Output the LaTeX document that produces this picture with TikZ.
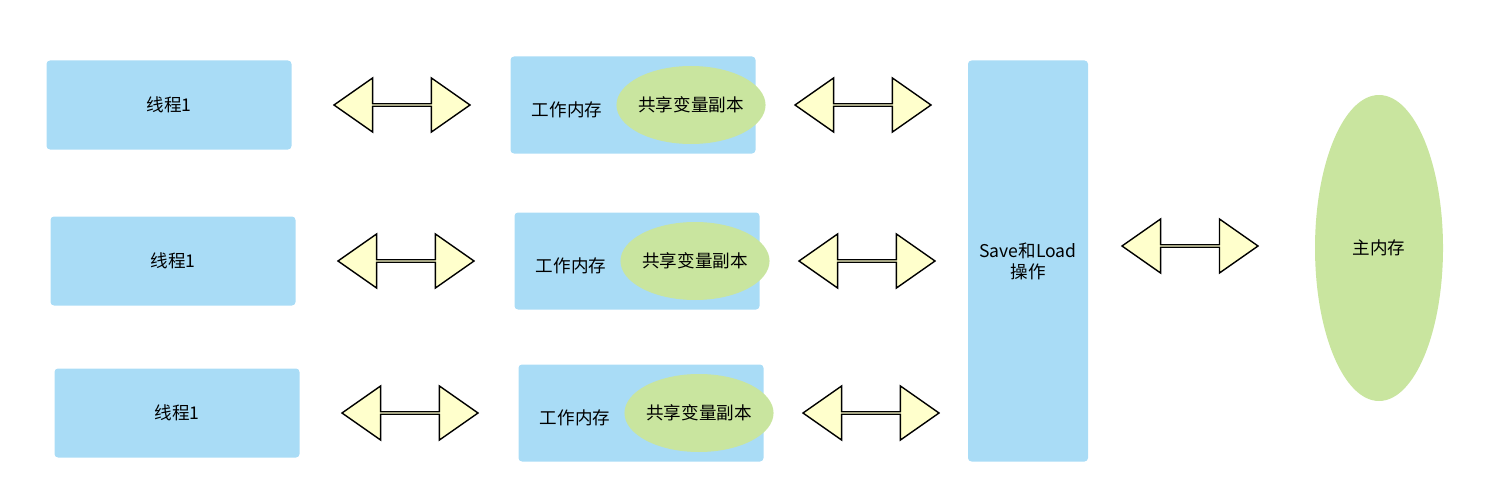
\documentclass[tikz,border=0pt]{standalone}
\usepackage{fontspec}
\setmainfont{Noto Sans CJK SC}
\usetikzlibrary{shapes.arrows,shapes.geometric}
\definecolor{bx}{HTML}{A9DCF6}
\definecolor{gr}{HTML}{C9E59F}
\definecolor{ar}{HTML}{FFFFCC}
\begin{document}
\begin{tikzpicture}[x=0.02cm,y=-0.02cm,
  box/.style={fill=bx,rounded corners=2pt,inner sep=0,font=\fontsize{10}{12}\selectfont},
  ell/.style={ellipse,fill=gr,inner sep=0,font=\fontsize{10}{12}\selectfont},
  dar/.style={double arrow,draw=black,fill=ar,line width=0.8pt,inner sep=0,minimum height=136*0.02cm,minimum width=54*0.02cm,double arrow head extend=0.3cm,double arrow tip angle=70},
  lbl/.style={font=\fontsize{10}{12}\selectfont}]
\useasboundingbox (0,0) rectangle (1493,500);
\foreach \i/\dx/\yc in {1/0/105,2/4/261,3/8/413}{
  \node[box,minimum width=245*0.02cm,minimum height=89*0.02cm] (t\i) at (169+\dx,\yc) {线程1};
  \node[dar] (a\i) at (402+\dx,\yc) {};
  \node[box,minimum width=245*0.02cm,minimum height=97*0.02cm] (w\i) at (633+\dx,\yc) {};
  \node[ell,minimum width=128*0.02cm,minimum height=78*0.02cm] (e\i) at (691+\dx,\yc) {共享变量副本};
  \node[lbl] (l\i) at (567+\dx,\yc+5) {工作内存};
  \node[dar] (b\i) at (863+\dx,\yc) {};
}
\node[box,minimum width=120*0.02cm,minimum height=401*0.02cm,align=center] (s) at (1028,261) {Save和Load\\操作};
\node[dar] (c) at (1190,246) {};
\node[ell,minimum width=128*0.02cm,minimum height=306*0.02cm] (m) at (1379,248) {主内存};
\end{tikzpicture}
\end{document}
